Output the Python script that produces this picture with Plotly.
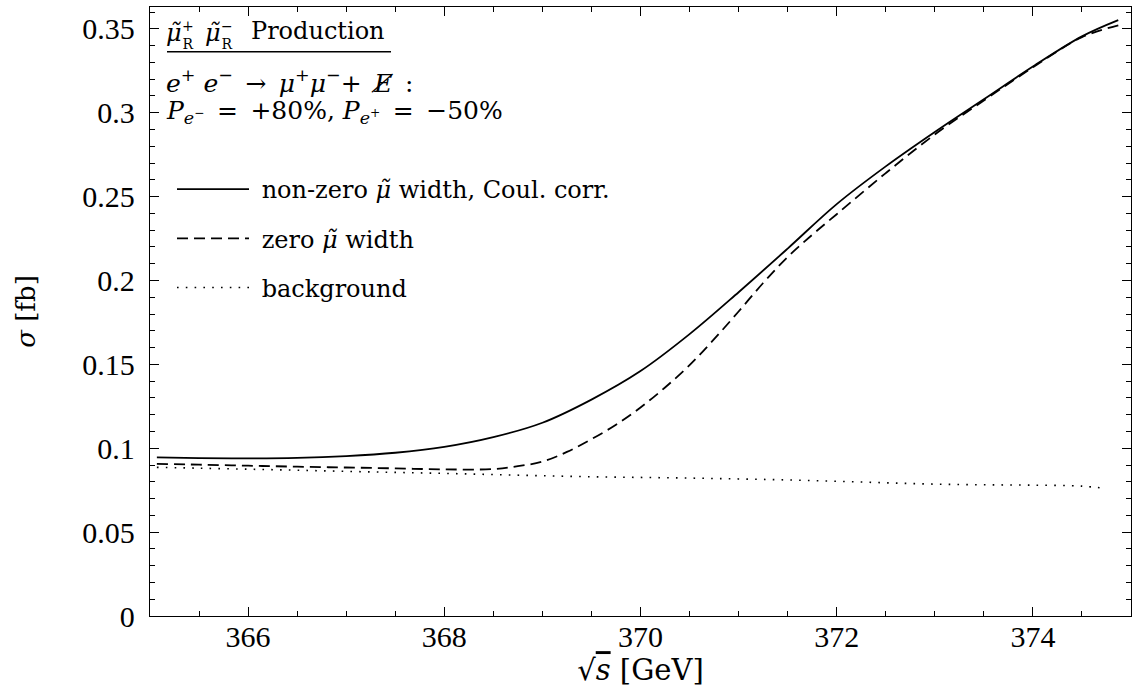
import plotly.graph_objects as go

# ---- data ----
energy_solid = [365.07, 365.5, 366.0, 366.5, 367.0, 367.5, 368.0, 368.5, 369.0, 369.5,
                370.0, 370.5, 371.0, 371.5, 372.0, 372.5, 373.0, 373.5, 374.0, 374.5, 374.87]
sigma_solid = [0.0945, 0.0941, 0.0939, 0.0942, 0.0953, 0.0973, 0.1008, 0.1066, 0.1152, 0.1290,
               0.1460, 0.1680, 0.1930, 0.2190, 0.2455, 0.2680, 0.2885, 0.3080, 0.3275, 0.3455, 0.3552]

energy_dashed = [365.07, 365.5, 366.0, 366.5, 367.0, 367.5, 368.0, 368.5, 368.75, 369.0,
                 369.25, 369.5, 369.75, 370.0, 370.25, 370.5, 370.75, 371.0, 371.25, 371.5,
                 371.75, 372.0, 372.5, 373.0, 373.5, 374.0, 374.5, 374.9]
sigma_dashed = [0.0907, 0.0902, 0.0896, 0.0890, 0.0885, 0.0880, 0.0874, 0.0876, 0.0893, 0.0920,
                0.0978, 0.1054, 0.1140, 0.1243, 0.1362, 0.1495, 0.1650, 0.1815, 0.1985, 0.2140,
                0.2272, 0.2395, 0.2640, 0.2870, 0.3073, 0.3270, 0.3450, 0.3525]

energy_bg = [365.07, 365.5, 366.0, 366.5, 367.0, 367.5, 368.0, 368.5, 369.0, 369.5, 370.0,
             370.5, 371.0, 371.5, 372.0, 372.5, 373.0, 373.5, 374.0, 374.5, 374.72]
sigma_bg = [0.0886, 0.0881, 0.0875, 0.0869, 0.0862, 0.0856, 0.0850, 0.0843, 0.0836, 0.0830, 0.0826,
            0.0822, 0.0817, 0.0811, 0.0803, 0.0794, 0.0786, 0.0782, 0.0780, 0.0774, 0.0762]

series_names = ["\u00a0non-zero <i>μ̃</i> width, Coul. corr.", "\u00a0zero <i>μ̃</i> width", "\u00a0background"]

y_tick_vals = [0, 0.05, 0.1, 0.15, 0.2, 0.25, 0.3, 0.35]
y_tick_text = ["0", "0.05", "0.1", "0.15", "0.2", "0.25", "0.3", "0.35"]
x_tick_vals = [366, 368, 370, 372, 374]
x_tick_text = ["366", "368", "370", "372", "374"]

TICKFONT = "Liberation Serif"
TEXTFONT = "DejaVu Serif"

fig = go.Figure()
fig.add_trace(go.Scatter(x=energy_solid, y=sigma_solid, mode="lines", name=series_names[0],
                         legendgroup="a", line=dict(color="black", width=1.8, shape="spline")))
fig.add_trace(go.Scatter(x=energy_dashed, y=sigma_dashed, mode="lines", name=series_names[1],
                         legendgroup="b", line=dict(color="black", width=1.8, dash="11px,6px", shape="spline")))
fig.add_trace(go.Scatter(x=energy_bg, y=sigma_bg, mode="lines", name=series_names[2],
                         legendgroup="c", line=dict(color="black", width=1.6, dash="1.6px,7.2px", shape="spline")))

# plot-area geometry helpers (paper coords)
L, R, T, B = 150, 1, 7, 80
W, H = 1132, 696
pw, ph = W - L - R, H - T - B


def px_x(p):
    return (p - L) / pw


def px_y(p):
    return (H - B - p) / ph


EN = "\u2002"
# (text, left px, centre px, size)
text_items = [
    ("<i>μ̃</i>", 166, 33, 24),
    ("+<br>R", 182, 34.5, 14),
    ("<i>μ̃</i>", 205, 33, 24),
    ("−<br>R", 221, 34.5, 14),
    ("Production", 251, 31, 24),
    ("<i>e</i><sup>+</sup> <i>e</i><sup>−</sup>" + EN + "→" + EN +
     "<i>μ</i><sup>+</sup><i>μ</i><sup>−</sup>+" + EN + "<i>E̸</i>" + EN + ":",
     166, 82, 25),
    ("<i>P</i><sub><i>e</i><sup>−</sup></sub>" + EN + "=" + EN + "+80%, <i>P</i><sub><i>e</i><sup>+</sup></sub>"
     + EN + "=" + EN + "−50%",
     166, 112, 25),
]
for txt, xl, yc, sz in text_items:
    fig.add_annotation(xref="paper", yref="paper", xanchor="left", yanchor="middle",
                       x=px_x(xl), y=px_y(yc), text=txt, showarrow=False,
                       borderpad=0, borderwidth=0,
                       font=dict(family=TEXTFONT, size=sz, color="black"))

fig.add_shape(type="line", xref="paper", yref="paper", x0=px_x(167), x1=px_x(391),
              y0=px_y(51.7), y1=px_y(51.7), line=dict(color="black", width=1.6))

axis_common = dict(showline=True, linecolor="black", linewidth=1.3, mirror="allticks",
                   ticks="inside", tickcolor="black", tickwidth=1.2, ticklen=9,
                   showgrid=False, zeroline=False,
                   tickfont=dict(family=TICKFONT, size=30, color="black"))

fig.update_xaxes(range=[365, 375], tickvals=x_tick_vals, ticktext=x_tick_text,
                 minor=dict(ticks="inside", dtick=0.5, tick0=365, ticklen=5, tickcolor="black", tickwidth=1),
                 title=dict(text="√<span style='text-decoration:overline'><i>s</i></span> [GeV]",
                            font=dict(family=TEXTFONT, size=29, color="black"), standoff=0),
                 ticklabelstandoff=-6,
                 **axis_common)
fig.update_yaxes(range=[0, 0.363], tickvals=y_tick_vals, ticktext=y_tick_text,
                 minor=dict(ticks="inside", dtick=0.01, tick0=0, ticklen=5, tickcolor="black", tickwidth=1),
                 title=dict(text="<i>σ</i> [fb]", font=dict(family=TEXTFONT, size=26, color="black"), standoff=39),
                 ticklabelstandoff=8,
                 **axis_common)

fig.update_layout(
    width=W, height=H,
    margin=dict(l=L, r=R, t=T, b=B),
    paper_bgcolor="white", plot_bgcolor="white",
    showlegend=True,
    legend=dict(x=px_x(172), y=px_y(167), xanchor="left", yanchor="top",
                font=dict(family=TEXTFONT, size=24, color="black"),
                bgcolor="rgba(0,0,0,0)", traceorder="grouped", tracegroupgap=15,
                itemwidth=72),
)

fig.write_html("out.html", include_plotlyjs=True, config={"displayModeBar": False},
               post_script="document.body.style.margin='0';document.body.style.overflow='hidden';")
